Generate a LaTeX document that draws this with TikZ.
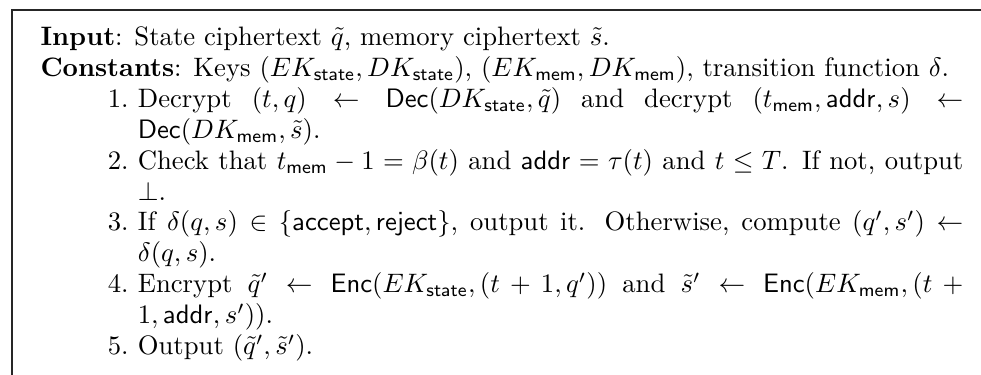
\documentclass[tikz,border=0pt]{standalone}
\usepackage{amsmath}
\usepackage{amssymb}
\usepackage{enumitem}
\usetikzlibrary{positioning}

\newcommand{\ksf}[1]{\mathsf{#1}}

\begin{document}
\begin{tikzpicture}[
  algtext/.style={anchor=north west,text width=346pt,inner xsep=10.5pt,
                  inner ysep=6pt,align=justify,font=\fontsize{10pt}{11.6pt}\selectfont},
  frameline/.style={line width=0.4pt,black!85}]
  \useasboundingbox (0,0) rectangle (367.8pt,-140.6pt);
  \node[algtext] (alg) at (4.5pt,-3.75pt){%
    \textbf{Input}: State ciphertext $\tilde{q}$, memory ciphertext $\tilde{s}$.\\
    \textbf{Constants}: Keys $(EK_{\ksf{state}},DK_{\ksf{state}})$,
    $(EK_{\ksf{mem}},DK_{\ksf{mem}})$, transition function $\delta$.
    \begin{enumerate}[leftmargin=36.5pt,labelsep=3.5pt,topsep=0pt,partopsep=0pt,
                      itemsep=0pt,parsep=0pt]
      \item Decrypt $(t,q)\leftarrow\ksf{Dec}(DK_{\ksf{state}},\tilde{q})$ and
        decrypt $(t_{\ksf{mem}},\ksf{addr},s)\leftarrow\ksf{Dec}(DK_{\ksf{mem}},\tilde{s})$.
      \item Check that $t_{\ksf{mem}}-1=\beta(t)$ and $\ksf{addr}=\tau(t)$ and
        $t\le T$. If not, output $\bot$.
      \item If $\delta(q,s)\in\{\ksf{accept},\ksf{reject}\}$, output it.
        Otherwise, compute $(q',s')\leftarrow\delta(q,s)$.
      \item Encrypt $\tilde{q}'\leftarrow\ksf{Enc}(EK_{\ksf{state}},(t+1,q'))$ and
        $\tilde{s}'\leftarrow\ksf{Enc}(EK_{\ksf{mem}},(t+1,\ksf{addr},s'))$.
      \item Output $(\tilde{q}',\tilde{s}')$.
    \end{enumerate}};
  % frame, cut off at right and bottom
  \draw[frameline] (alg.north east) -- (alg.north west) -- ([yshift=-10pt]alg.south west);
\end{tikzpicture}
\end{document}
